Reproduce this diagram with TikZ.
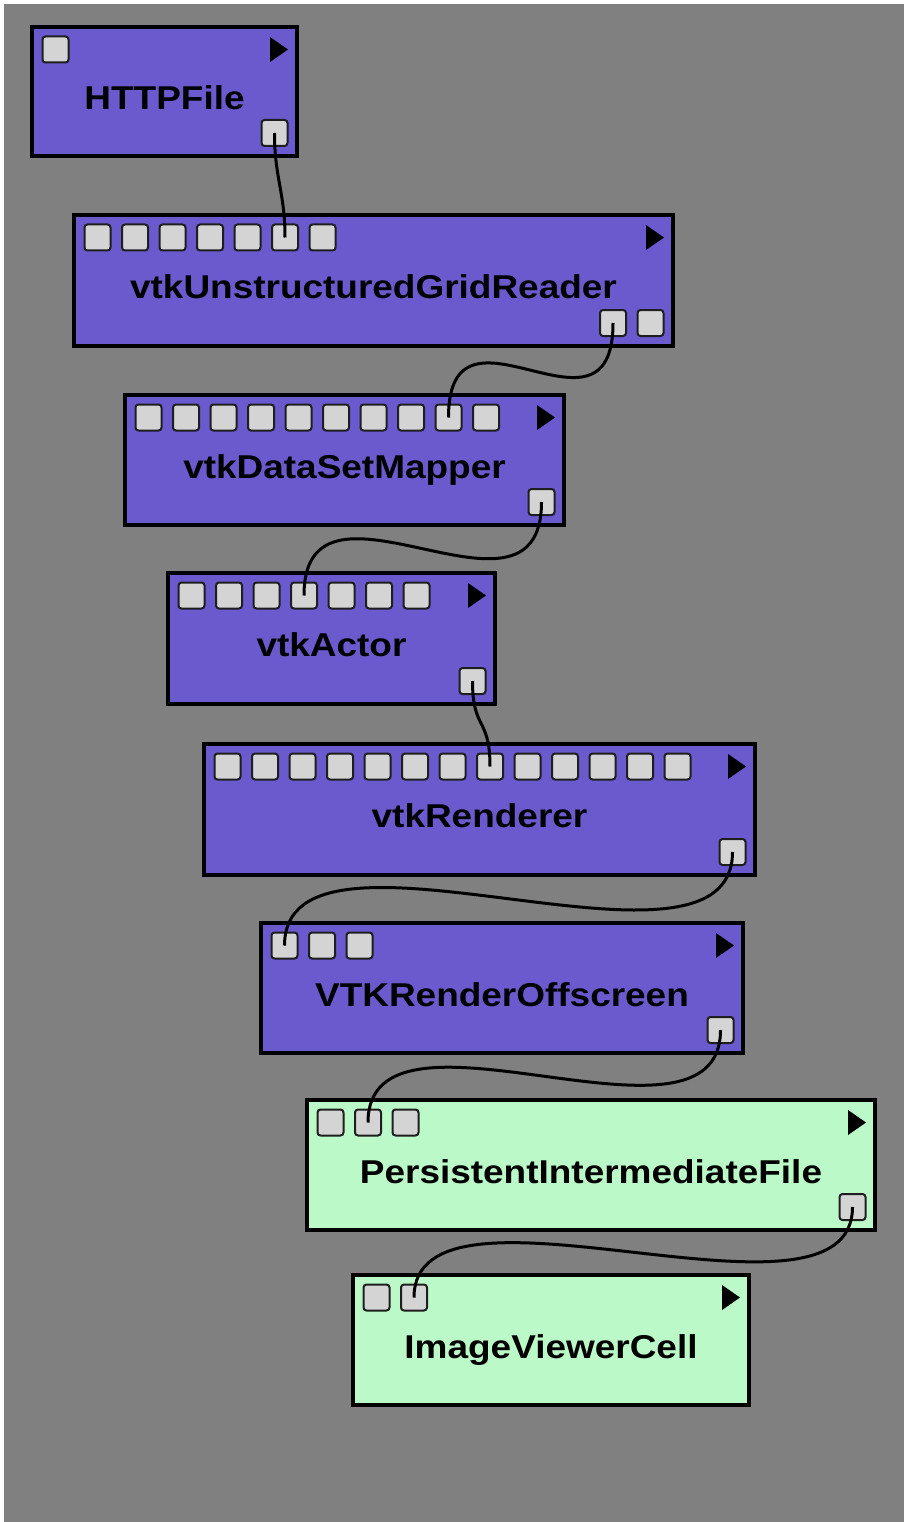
\documentclass[tikz,border=0pt]{standalone}
\usepackage{fontspec}
\newfontfamily\modfont{Liberation Sans}[FakeStretch=1.12]
\definecolor{bggray}{RGB}{128,128,128}
\definecolor{vtkpurple}{RGB}{106,90,205}
\definecolor{mintgreen}{RGB}{187,250,200}
\definecolor{portfill}{RGB}{212,212,212}
\definecolor{portline}{RGB}{30,30,30}
\tikzset{
  modbox/.style={rectangle, draw=black, line width=4pt, inner sep=0pt},
  modlabel/.style={anchor=base, inner sep=0pt, font=\modfont\bfseries\fontsize{33}{40}\selectfont},
  portbox/.style={rectangle, fill=portfill, draw=portline, line width=2pt, rounded corners=3pt, minimum size=26pt, inner sep=0pt},
  conn/.style={draw=black, line width=3pt},
}
% id, left, top, right, bottom, #inputs, fill, label, #outputs
\newcommand\vtmodule[9]{%
  \node[modbox, fill=#7, minimum width={#4-#2-4}, minimum height={#5-#3-4}] (#1) at ({(#2+#4)/2},{(#3+#5)/2}) {};
  \node[modlabel] (#1-label) at ({(#2+#4)/2},{#3+85}) {#8};
  \foreach \i in {1,...,#6} {
    \node[portbox] (#1-in\i) at ({#2+25.5+(\i-1)*37.5},{#3+24.5}) {};
  }
  \fill[black] ({#4-29},{#3+12}) -- ({#4-11},{#3+24.5}) -- ({#4-29},{#3+37}) -- cycle;
  \ifnum#9>0
    \foreach \j in {1,...,#9} {
      \node[portbox] (#1-out\j) at ({#4-24.5-(#9-\j)*37.5},{#5-25}) {};
    }
  \fi
}
\begin{document}
\begin{tikzpicture}[x=1pt, y=-1pt]
\useasboundingbox (0,0) rectangle (904,1522);
\fill[white] (0,0) rectangle (904,1522);
\fill[bggray] (4,4) rectangle (904,1522);

\vtmodule{m1}{30}{25}{299}{158}{1}{vtkpurple}{HTTPFile}{1}
\vtmodule{m2}{72}{213}{675}{348}{7}{vtkpurple}{vtkUnstructuredGridReader}{2}
\vtmodule{m3}{123}{393}{566}{527}{10}{vtkpurple}{vtkDataSetMapper}{1}
\vtmodule{m4}{166}{571}{497}{706}{7}{vtkpurple}{vtkActor}{1}
\vtmodule{m5}{202}{742}{757}{877}{13}{vtkpurple}{vtkRenderer}{1}
\vtmodule{m6}{259}{921}{745}{1055}{3}{vtkpurple}{VTKRenderOffscreen}{1}
\vtmodule{m7}{305}{1098}{877}{1232}{3}{mintgreen}{PersistentIntermediateFile}{1}
\vtmodule{m8}{351}{1273}{751}{1407}{2}{mintgreen}{ImageViewerCell}{0}

\draw[conn] (m1-out1.center) .. controls +(0,45) and +(0,-45) .. (m2-in6.center);
\draw[conn] (m2-out1.center) .. controls +(0,135) and +(0,-135) .. (m3-in9.center);
\draw[conn] (m3-out1.center) .. controls +(0,145) and +(0,-145) .. (m4-in4.center);
\draw[conn] (m4-out1.center) .. controls +(0,50) and +(0,-50) .. (m5-in8.center);
\draw[conn] (m5-out1.center) .. controls +(0,150) and +(0,-150) .. (m6-in1.center);
\draw[conn] (m6-out1.center) .. controls +(0,140) and +(0,-140) .. (m7-in2.center);
\draw[conn] (m7-out1.center) .. controls +(0,140) and +(0,-140) .. (m8-in2.center);
\end{tikzpicture}
\end{document}
